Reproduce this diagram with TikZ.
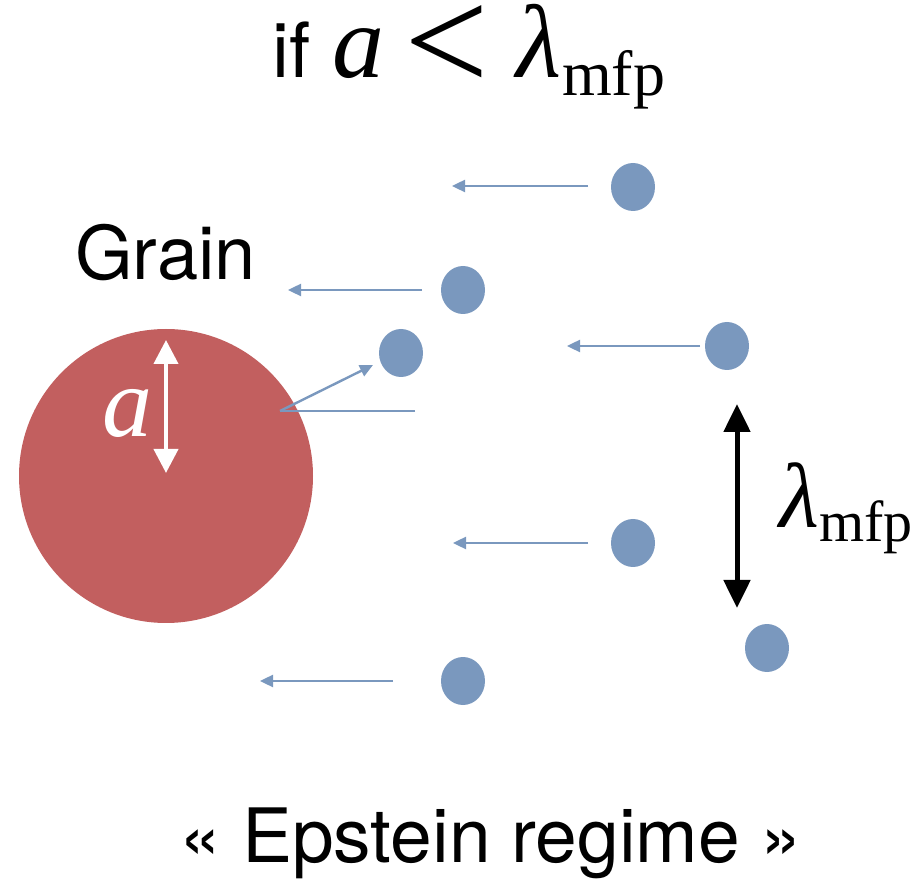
\documentclass[tikz,border=0pt]{standalone}
\usepackage{fontspec}
\setmainfont{TeX Gyre Heros}
\newfontfamily\tms{Liberation Serif}
\usepackage{graphicx}
\usepackage{tikz}
\usetikzlibrary{arrows.meta,positioning,shapes.geometric}
\definecolor{grainred}{HTML}{C25F5F}
\definecolor{gasblue}{HTML}{7A98BE}
\tikzset{
  molec/.style={ellipse,fill=gasblue,draw=none,minimum width=22pt,minimum height=24pt,inner sep=0pt},
  flow/.style={-{Triangle[length=6.5pt,width=6pt]},draw=gasblue,line width=1.2pt},
  bounce/.style={draw=gasblue,line width=1.2pt},
  mfp/.style={{Triangle[length=14pt,width=13pt]}-{Triangle[length=14pt,width=13pt]},line width=2.5pt},
  rad/.style={{Triangle[length=12pt,width=12pt]}-{Triangle[length=12pt,width=12pt]},white,line width=2pt},
  lab/.style={inner sep=0pt},
}
\newcommand{\lmfp}[3]{{\tms\itshape\fontsize{#1}{#1}\selectfont λ}{\tms\fontsize{#2}{#2}\selectfont\raisebox{#3}{mfp}}}
\begin{document}
\begin{tikzpicture}[x=0.5pt,y=-0.5pt]
\useasboundingbox (0,0) rectangle (917,882);
\node[lab,anchor=base west] (title) at (272,78)
  {\fontsize{38}{40}\selectfont if\hspace{11pt}{\tms\itshape\fontsize{52}{52}\selectfont a}\hspace{10pt}{\tms\fontsize{50}{50}\selectfont\raisebox{-7pt}{\scalebox{1.5}{<}}}\hspace{14pt}\lmfp{52}{32}{-9pt}};
\node[lab,anchor=base west] (grain) at (75,280) {\fontsize{37}{40}\selectfont Grain};
\fill[grainred] (166,476) circle[radius=147];
\coordinate (rtop) at (166,340);
\coordinate (rbot) at (166,473);
\draw[rad] (rtop) -- (rbot);
\node[lab,text=white] (alab) at (127,413) {\tms\itshape\fontsize{50}{50}\selectfont a};
\node[molec] (m1) at (633,187) {};
\node[molec] (m2) at (463,290) {};
\node[molec] (m3) at (401,353) {};
\node[molec] (m4) at (727,346) {};
\node[molec] (m5) at (633,543) {};
\node[molec] (m6) at (767,648) {};
\node[molec] (m7) at (463,681) {};
\coordinate (s1) at (588,186); \coordinate (e1) at (452,186);
\coordinate (s2) at (422,290); \coordinate (e2) at (288,290);
\coordinate (s4) at (700,346); \coordinate (e4) at (567,346);
\coordinate (s5) at (588,543); \coordinate (e5) at (453,543);
\coordinate (s7) at (393,681); \coordinate (e7) at (260,681);
\coordinate (s3) at (415,411); \coordinate (hit) at (280,411); \coordinate (e3) at (373,365);
\draw[flow] (s1) -- (e1);
\draw[flow] (s2) -- (e2);
\draw[flow] (s4) -- (e4);
\draw[flow] (s5) -- (e5);
\draw[flow] (s7) -- (e7);
\draw[bounce] (s3) -- (hit);
\draw[flow] (hit) -- (e3);
\coordinate (ltop) at (737,404);
\coordinate (lbot) at (737,608);
\draw[mfp] (ltop) -- (lbot);
\node[lab,anchor=base west] (lamlab) at (779,528) {\lmfp{46}{29}{-7pt}};
\node[lab,anchor=base] (regime) at (491,862) {\fontsize{37.5}{40}\selectfont « Epstein regime »};
\end{tikzpicture}
\end{document}
